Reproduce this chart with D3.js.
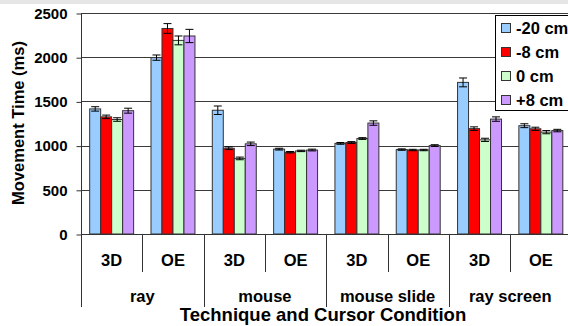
<!DOCTYPE html>
<html>
<head>
<meta charset="utf-8">
<script src="https://cdn.jsdelivr.net/npm/d3@7"></script>
<style>
  html, body { margin: 0; padding: 0; background: #fff; }
  svg { display: block; font-family: Arial, "Liberation Sans", sans-serif; font-weight: bold; }
</style>
</head>
<body>
<svg id="chart" width="568" height="326"></svg>
<script>
// Techniques and cursor conditions (outer / inner category levels)
const techniques = ["ray", "mouse", "mouse slide", "ray screen"];
const conditions = ["3D", "OE"];
// Cursor depth offsets (series)
const seriesNames = ["-20 cm", "-8 cm", "0 cm", "+8 cm"];
const seriesColors = ["#99ccff", "#ff0000", "#ccffcc", "#cc99ff"];
// Mean movement time (ms), one row per technique/condition, one column per series
const meanTimes = [
  [1415, 1325, 1295, 1395],
  [1995, 2325, 2190, 2240],
  [1400,  970,  855, 1020],
  [ 960,  925,  940,  950],
  [1025, 1035, 1080, 1255],
  [ 955,  950,  950, 1000],
  [1715, 1192, 1065, 1300],
  [1225, 1190, 1152, 1170]
];
// Standard errors (ms)
const errors = [
  [25, 20, 20, 28],
  [30, 55, 50, 75],
  [48, 15, 15, 20],
  [10,  8,  8, 10],
  [10, 10, 10, 25],
  [ 8,  8,  8, 10],
  [50, 20, 18, 25],
  [22, 18, 18, 14]
];
const yTicks = [0, 500, 1000, 1500, 2000, 2500];

const svg = d3.select("#chart");

// faint band along the top edge
svg.append("rect").attr("x", 0).attr("y", 0).attr("width", 568).attr("height", 4).attr("fill", "#e6e6e6");

const plotLeft = 81, plotRight = 571.5, plotTop = 13, plotBottom = 234;

const groups = [];
techniques.forEach(t => conditions.forEach(c => groups.push({ tech: t, cond: c })));
const keys = groups.map((g, i) => i);

const x0 = d3.scaleBand().domain(keys).range([plotLeft, plotRight]).paddingInner(0).paddingOuter(0);
const x1 = d3.scaleBand().domain(d3.range(seriesNames.length)).range([0, x0.bandwidth()]).paddingInner(0).paddingOuter(0.79);
const y = d3.scaleLinear().domain([0, 2500]).range([plotBottom, plotTop]);

// gridlines
svg.append("g").selectAll("line").data(yTicks.filter(d => d > 0)).join("line")
  .attr("x1", plotLeft).attr("x2", 568)
  .attr("y1", d => Math.round(y(d)) + 0.5).attr("y2", d => Math.round(y(d)) + 0.5)
  .attr("stroke", "#3a3a3a").attr("stroke-width", 1);

// y axis
const yAxis = d3.axisLeft(y).tickValues(yTicks).tickSize(5).tickPadding(9).tickFormat(d3.format("d"));
const yg = svg.append("g").attr("transform", `translate(${plotLeft + 0.5},0.5)`).call(yAxis);
yg.select(".domain").remove();
yg.selectAll(".tick line").attr("stroke", "#333");
yg.selectAll(".tick text").attr("font-size", 15).attr("font-weight", "bold")
  .attr("font-family", "Arial, 'Liberation Sans', sans-serif").attr("fill", "#000");
svg.append("line").attr("x1", plotLeft + 0.5).attr("x2", plotLeft + 0.5)
  .attr("y1", plotTop).attr("y2", 307).attr("stroke", "#333");

// bars
const gBars = svg.append("g");
groups.forEach((g, gi) => {
  const cell = gBars.append("g").attr("transform", `translate(${x0(gi)},0)`);
  const rows = meanTimes[gi].map((v, si) => ({ v, e: errors[gi][si], si }));
  cell.selectAll("rect").data(rows).join("rect")
    .attr("x", d => x1(d.si)).attr("width", x1.bandwidth())
    .attr("y", d => y(d.v)).attr("height", d => y(0) - y(d.v))
    .attr("fill", d => seriesColors[d.si])
    .attr("stroke", "#333").attr("stroke-width", 1);
  // error bars
  const eb = cell.selectAll("g.err").data(rows).join("g").attr("class", "err");
  const cx = d => x1(d.si) + x1.bandwidth() / 2;
  eb.append("line").attr("x1", cx).attr("x2", cx)
    .attr("y1", d => y(d.v + d.e)).attr("y2", d => y(d.v - d.e)).attr("stroke", "#000");
  eb.append("line").attr("x1", d => cx(d) - 4).attr("x2", d => cx(d) + 4)
    .attr("y1", d => y(d.v + d.e)).attr("y2", d => y(d.v + d.e)).attr("stroke", "#000");
  eb.append("line").attr("x1", d => cx(d) - 4).attr("x2", d => cx(d) + 4)
    .attr("y1", d => y(d.v - d.e)).attr("y2", d => y(d.v - d.e)).attr("stroke", "#000");
});

// baseline
svg.append("line").attr("x1", plotLeft).attr("x2", 568)
  .attr("y1", plotBottom + 0.5).attr("y2", plotBottom + 0.5).attr("stroke", "#333");

// hierarchical category axis
const xa = svg.append("g");
keys.forEach(i => {
  if (i === 0) return;
  const xx = Math.round(x0(i)) + 0.5;
  const isGroupEdge = i % conditions.length === 0;
  xa.append("line").attr("x1", xx).attr("x2", xx)
    .attr("y1", plotBottom).attr("y2", isGroupEdge ? 307 : 272).attr("stroke", "#333");
});
xa.selectAll("text.cond").data(groups).join("text").attr("class", "cond")
  .attr("x", (d, i) => x0(i) + x0.bandwidth() / 2).attr("y", 266)
  .attr("text-anchor", "middle").attr("font-size", 16.5).text(d => d.cond);
xa.selectAll("text.tech").data(techniques).join("text").attr("class", "tech")
  .attr("x", (d, i) => x0(i * conditions.length) + x0.bandwidth())
  .attr("y", 302).attr("text-anchor", "middle").attr("font-size", 16.5).text(d => d);

// axis titles
svg.append("text").attr("x", 323).attr("y", 321).attr("text-anchor", "middle")
  .attr("font-size", 18.5).text("Technique and Cursor Condition");
svg.append("text").attr("transform", "translate(24,123) rotate(-90)")
  .attr("text-anchor", "middle").attr("font-size", 16.5).text("Movement Time (ms)");

// legend
const lg = svg.append("g");
lg.append("rect").attr("x", 495.5).attr("y", 15.5).attr("width", 80).attr("height", 95)
  .attr("fill", "#fff").attr("stroke", "#000");
seriesNames.forEach((name, i) => {
  const cy = 28 + i * 24;
  lg.append("rect").attr("x", 501.5).attr("y", cy - 4.5).attr("width", 9).attr("height", 9)
    .attr("fill", seriesColors[i]).attr("stroke", "#333");
  lg.append("text").attr("x", 516).attr("y", cy + 6).attr("font-size", 16.5).text(name);
});
</script>
</body>
</html>
